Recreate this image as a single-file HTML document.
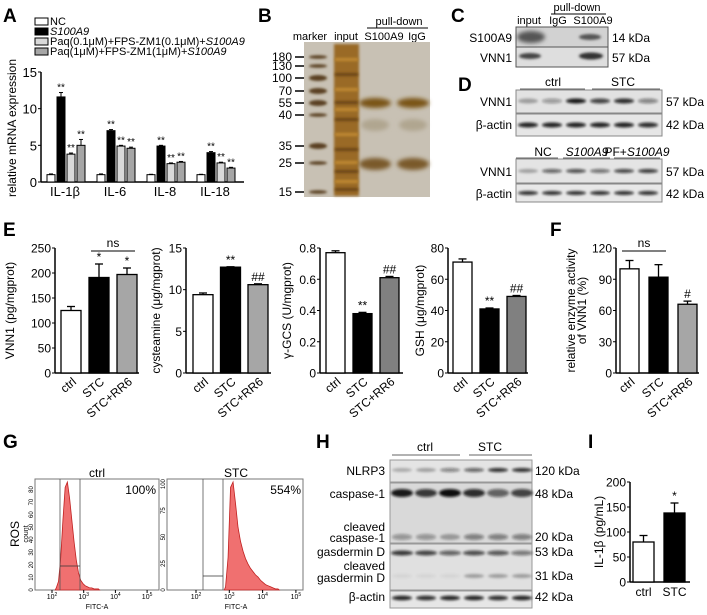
<!DOCTYPE html>
<html><head><meta charset="utf-8"><style>
body{margin:0;background:#fff}
svg{display:block;font-family:"Liberation Sans",Arial,sans-serif}
</style></head><body>
<svg id="fig" width="707" height="615" viewBox="0 0 707 615" xmlns="http://www.w3.org/2000/svg">
<defs>
<filter id="bl" x="-30%" y="-100%" width="160%" height="300%"><feGaussianBlur stdDeviation="1.3"/></filter>
<filter id="bl2" x="-30%" y="-100%" width="160%" height="300%"><feGaussianBlur stdDeviation="2"/></filter>
</defs>
<g font-weight="bold" font-size="19">
<text x="3" y="22">A</text>
<text x="258" y="22">B</text>
<text x="451" y="22">C</text>
<text x="458" y="91">D</text>
<text x="3" y="236">E</text>
<text x="550" y="236">F</text>
<text x="3" y="448">G</text>
<text x="316" y="448">H</text>
<text x="588" y="448">I</text>
</g>

<g font-size="11">
<rect x="35" y="18" width="13" height="7" fill="#fff" stroke="#000"/>
<text x="50" y="25">NC</text>
<rect x="35" y="28" width="13" height="7" fill="#000" stroke="#000"/>
<text x="50" y="35" font-style="italic">S100A9</text>
<rect x="35" y="38" width="13" height="7" fill="#d9d9d9" stroke="#000"/>
<text x="50" y="45">Paq(0.1μM)+FPS-ZM1(0.1μM)+<tspan font-style="italic">S100A9</tspan></text>
<rect x="35" y="48" width="13" height="7" fill="#a6a6a6" stroke="#000"/>
<text x="50" y="55">Paq(1μM)+FPS-ZM1(1μM)+<tspan font-style="italic">S100A9</tspan></text>
</g>
<g id="chartA"></g>

<g font-size="12">
<text x="310" y="40" text-anchor="middle" font-size="11">marker</text>
<text x="346" y="40" text-anchor="middle" font-size="11">input</text>
<text x="384" y="40" text-anchor="middle" font-size="11">S100A9</text>
<text x="417" y="40" text-anchor="middle" font-size="11">IgG</text>
<text x="399" y="25" text-anchor="middle" font-size="11">pull-down</text>
<line x1="367" y1="28" x2="428" y2="28" stroke="#000"/>
<rect x="304" y="42" width="126" height="155" fill="#c8c1b4"/>
<g id="gelB"></g>
</g>

<g font-size="12">
<text x="529" y="24" text-anchor="middle" font-size="11">input</text>
<text x="577" y="11" text-anchor="middle" font-size="11">pull-down</text>
<line x1="551" y1="14" x2="606" y2="14" stroke="#000"/>
<text x="558" y="24" text-anchor="middle" font-size="11">IgG</text>
<text x="593" y="24" text-anchor="middle" font-size="11">S100A9</text>
<rect x="516" y="27" width="92" height="20" fill="#d2d2d2" stroke="#555"/>
<rect x="516" y="47" width="92" height="20" fill="#dedede" stroke="#555"/>
<ellipse cx="531" cy="37" rx="14" ry="6" fill="#555" filter="url(#bl2)"/>
<ellipse cx="590" cy="37" rx="11" ry="3" fill="#555" filter="url(#bl)"/>
<ellipse cx="530" cy="56" rx="11" ry="3" fill="#444" filter="url(#bl)"/>
<ellipse cx="591" cy="56" rx="12" ry="3.5" fill="#333" filter="url(#bl)"/>
<text x="512" y="42" text-anchor="end">S100A9</text>
<text x="512" y="62" text-anchor="end">VNN1</text>
<text x="612" y="42">14 kDa</text>
<text x="612" y="62">57 kDa</text>
</g>

<g font-size="12">
<text x="553" y="86" text-anchor="middle">ctrl</text>
<text x="623" y="86" text-anchor="middle">STC</text>
<line x1="520" y1="89" x2="585" y2="89" stroke="#666"/>
<line x1="592" y1="89" x2="660" y2="89" stroke="#666"/>
<rect x="516" y="90" width="146" height="23" fill="#e2e2e2" stroke="#888"/>
<rect x="516" y="114" width="146" height="22" fill="#e6e6e6" stroke="#888"/>
<text x="512" y="106" text-anchor="end">VNN1</text>
<text x="512" y="129" text-anchor="end">β-actin</text>
<text x="666" y="106">57 kDa</text>
<text x="666" y="129">42 kDa</text>
<text x="543" y="156" text-anchor="middle">NC</text>
<text x="587" y="156" text-anchor="middle" font-style="italic">S100A9</text>
<text x="637" y="156" text-anchor="middle">PF+<tspan font-style="italic">S100A9</tspan></text>
<line x1="516" y1="158" x2="558" y2="158" stroke="#666"/>
<line x1="563" y1="158" x2="610" y2="158" stroke="#666"/>
<line x1="614" y1="158" x2="660" y2="158" stroke="#666"/>
<rect x="516" y="159" width="146" height="24" fill="#e4e4e4" stroke="#888"/>
<rect x="516" y="184" width="146" height="18" fill="#e8e8e8" stroke="#888"/>
<text x="512" y="176" text-anchor="end">VNN1</text>
<text x="512" y="198" text-anchor="end">β-actin</text>
<text x="666" y="176">57 kDa</text>
<text x="666" y="198">42 kDa</text>
<g id="bandsD"></g>
</g>

<g id="chartE"></g>
<g id="chartF"></g>

<g>
<text x="97" y="477" text-anchor="middle" font-size="12">ctrl</text>
<text x="236" y="477" text-anchor="middle" font-size="12">STC</text>
<text x="19" y="534" text-anchor="middle" font-size="12" transform="rotate(-90 19 534)">ROS</text>
<text x="28" y="534" text-anchor="middle" font-size="7" transform="rotate(-90 28 534)">count</text>
<rect x="35" y="479" width="124" height="111" fill="#fff" stroke="#777"/>
<rect x="167" y="479" width="136" height="111" fill="#fff" stroke="#777"/>
<g id="flowG"></g>
<text x="156" y="494" text-anchor="end" font-size="12">100%</text>
<text x="301" y="494" text-anchor="end" font-size="12">554%</text>
<text x="97" y="609" text-anchor="middle" font-size="7">FITC-A</text>
<text x="236" y="609" text-anchor="middle" font-size="7">FITC-A</text>
</g>

<g font-size="12">
<text x="425" y="451" text-anchor="middle">ctrl</text>
<text x="490" y="451" text-anchor="middle">STC</text>
<line x1="392" y1="455" x2="460" y2="455" stroke="#666"/>
<line x1="469" y1="455" x2="532" y2="455" stroke="#666"/>
<rect x="390" y="460" width="142" height="22" fill="#e4e4e4" stroke="#999"/>
<rect x="390" y="483" width="142" height="60" fill="#d9d9d9" stroke="#999"/>
<rect x="390" y="544" width="142" height="46" fill="#e0e0e0" stroke="#999"/>
<rect x="390" y="591" width="142" height="17" fill="#e6e6e6" stroke="#999"/>
<g id="bandsH"></g>
<text x="385" y="475" text-anchor="end">NLRP3</text>
<text x="385" y="498" text-anchor="end">caspase-1</text>
<text x="385" y="531" text-anchor="end">cleaved</text>
<text x="385" y="542" text-anchor="end">caspase-1</text>
<text x="385" y="556" text-anchor="end">gasdermin D</text>
<text x="385" y="570" text-anchor="end">cleaved</text>
<text x="385" y="582" text-anchor="end">gasdermin D</text>
<text x="385" y="601" text-anchor="end">β-actin</text>
<text x="535" y="475">120 kDa</text>
<text x="535" y="498">48 kDa</text>
<text x="535" y="541">20 kDa</text>
<text x="535" y="556">53 kDa</text>
<text x="535" y="580">31 kDa</text>
<text x="535" y="601">42 kDa</text>
</g>
<g id="chartI"></g>
</svg>
<script>
const aCats = ['IL-1β','IL-6','IL-8','IL-18'];
const aNC = [1,1,1,1];
const aS100A9 = [11.6,7.0,4.9,4.0];
const aLow = [3.8,4.9,2.5,2.6];
const aHigh = [5.0,4.6,2.7,1.9];
const aErrNC = [0.1,0.1,0.05,0.05];
const aErrS = [0.6,0.15,0.1,0.15];
const aErrLow = [0.15,0.1,0.1,0.1];
const aErrHigh = [0.8,0.15,0.1,0.1];
const aTicks = [0,5,10,15];

const eCats = ['ctrl','STC','STC+RR6'];
const vnn1Vals = [125,191,197];
const vnn1Err = [8,27,13];
const vnn1Ticks = [0,50,100,150,200,250];
const vnn1Marks = ['','*','*'];
const cystVals = [9.4,12.7,10.6];
const cystErr = [0.2,0.05,0.1];
const cystTicks = [0,5,10,15];
const cystMarks = ['','**','##'];
const gcsVals = [0.77,0.38,0.61];
const gcsErr = [0.012,0.008,0.008];
const gcsTicks = [0,0.2,0.4,0.6,0.8];
const gcsMarks = ['','**','##'];
const gshVals = [71,41,49];
const gshErr = [2,0.6,0.6];
const gshTicks = [0,20,40,60,80];
const gshMarks = ['','**','##'];
const fVals = [100,92,66];
const fErr = [8,12,3];
const fTicks = [0,30,60,90,120];
const fMarks = ['','','#'];
const iCats = ['ctrl','STC'];
const iVals = [80,138];
const iErr = [13,20];
const iTicks = [0,50,100,150,200];
const iMarks = ['','*'];

const ctrlHist = [2,8,30,65,95,100,85,65,45,28,16,9,6,4,3,2,2,1,1,1];
const stcHist = [3,30,95,100,80,58,45,36,29,24,20,17,14,12,9,7,5,4,3,2,1,1];

const dRow1 = [0.3,0.35,0.95,0.75,0.85,0.45];
const dRow2 = [0.3,0.6,0.7,0.55,0.75,0.8];
const hNlrp3 = [0.25,0.3,0.45,0.6,0.85,0.85];
const hCasp = [0.95,0.8,1.0,0.85,0.6,0.75];
const hCleavedCasp = [0.35,0.35,0.3,0.45,0.45,0.45];
const hGsdmd = [0.8,0.75,0.6,0.7,0.65,0.5];
const hCleavedG = [0.05,0.05,0.05,0.3,0.3,0.3];
const gelMarkers = [180,130,100,70,55,40,35,25,15];
const gelMarkerY = [57,66,78,91,103,115,146,163,192];

const NS='http://www.w3.org/2000/svg';
function el(parent, tag, attrs, name){
  const e=document.createElementNS(NS,tag);
  for(const k in attrs) e.setAttribute(k,attrs[k]);
  
  
  parent.appendChild(e);
  return e;
}
function txt(parent, x, y, s, size, anchor, name, extra){
  const t=el(parent,'text',Object.assign({x:x,y:y,'font-size':size,'text-anchor':anchor},extra||{}),name);
  t.textContent=s;
  return t;
}

function barChart(g, cfg){
  const yScale=v=>cfg.y0-(v-cfg.ticks[0])/(cfg.ticks[cfg.ticks.length-1]-cfg.ticks[0])*(cfg.y0-cfg.yTop);
  el(g,'line',{x1:cfg.ax,y1:cfg.yTop,x2:cfg.ax,y2:cfg.y0,stroke:'#000','stroke-width':1.5},'y-axis');
  el(g,'line',{x1:cfg.ax,y1:cfg.y0,x2:cfg.axEnd,y2:cfg.y0,stroke:'#000','stroke-width':1.5},'x-axis');
  cfg.ticks.forEach(t=>{
    const y=yScale(t);
    el(g,'line',{x1:cfg.ax-3,y1:y,x2:cfg.ax,y2:y,stroke:'#000'},'y-tick');
    txt(g,cfg.ax-4,y+4.5,String(t),12,'end','y-tick-label');
  });
  txt(g,cfg.ylx,(cfg.y0+cfg.yTop)/2,cfg.ylabel,12,'middle','y-axis-title',{transform:'rotate(-90 '+cfg.ylx+' '+((cfg.y0+cfg.yTop)/2)+')'});
  if(cfg.ylabel2){
    const x2=cfg.ylx+11;
    txt(g,x2,(cfg.y0+cfg.yTop)/2,cfg.ylabel2,12,'middle','y-axis-title-line2',{transform:'rotate(-90 '+x2+' '+((cfg.y0+cfg.yTop)/2)+')'});
  }
  cfg.vals.forEach((v,i)=>{
    const x=cfg.x0+i*cfg.step, cx=x+cfg.w/2, y=yScale(v), ye=yScale(v+cfg.err[i]);
    el(g,'line',{x1:cx,y1:y,x2:cx,y2:ye,stroke:'#000','stroke-width':1.3},'error-bar');
    el(g,'line',{x1:cx-4,y1:ye,x2:cx+4,y2:ye,stroke:'#000','stroke-width':1.3},'error-cap');
    el(g,'rect',{x:x,y:y,width:cfg.w,height:cfg.y0-y,fill:cfg.fills[i],stroke:'#000','stroke-width':1.3},'bar-'+cfg.cats[i].toLowerCase().replace(/\+/g,'-'));
    if(cfg.marks[i]) txt(g,cx,ye-3,cfg.marks[i],12,'middle','significance-mark');
    if(cfg.rot){
      txt(g,cx+6,cfg.y0+10,cfg.cats[i],12,'end','x-tick-label',{transform:'rotate(-40 '+(cx+6)+' '+(cfg.y0+10)+')'});
    } else {
      txt(g,cx,cfg.y0+14,cfg.cats[i],12,'middle','x-tick-label');
    }
  });
  if(cfg.ns){
    const a=cfg.x0+cfg.ns[0]*cfg.step+2, b=cfg.x0+cfg.ns[1]*cfg.step+cfg.w-2;
    el(g,'line',{x1:a,y1:cfg.nsY,x2:b,y2:cfg.nsY,stroke:'#000'},'ns-bracket');
    txt(g,(a+b)/2,cfg.nsY-4,'ns',12,'middle','ns-label');
  }
}

(function(){
  const g=document.getElementById('chartA');
  const y0=182,yTop=72,ax=41;
  const yS=v=>y0-v/15*(y0-yTop);
  el(g,'line',{x1:ax,y1:yTop,x2:ax,y2:y0,stroke:'#000','stroke-width':1.5},'y-axis');
  el(g,'line',{x1:ax,y1:y0,x2:244,y2:y0,stroke:'#000','stroke-width':1.5},'x-axis');
  aTicks.forEach(t=>{
    el(g,'line',{x1:ax-3,y1:yS(t),x2:ax,y2:yS(t),stroke:'#000'},'y-tick');
    txt(g,ax-4,yS(t)+5,String(t),13,'end','y-tick-label');
  });
  txt(g,16,128,'relative mRNA expression',12,'middle','y-axis-title',{transform:'rotate(-90 16 128)'});
  const series=[aNC,aS100A9,aLow,aHigh], errs=[aErrNC,aErrS,aErrLow,aErrHigh];
  const fills=['#fff','#000','#d9d9d9','#a6a6a6'];
  aCats.forEach((c,i)=>{
    const gx=47+50*i;
    series.forEach((s,j)=>{
      const x=gx+10*j, v=s[i], y=yS(v), ye=yS(v+errs[j][i]);
      el(g,'line',{x1:x+4,y1:y,x2:x+4,y2:ye,stroke:'#000'},'error-bar');
      el(g,'line',{x1:x+2,y1:ye,x2:x+6,y2:ye,stroke:'#000'},'error-cap');
      el(g,'rect',{x:x,y:y,width:8,height:y0-y,fill:fills[j],stroke:'#000'},'bar-'+c.toLowerCase()+'-s'+j);
      if(j>0) txt(g,x+4,ye-2,'**',10,'middle','significance-mark');
    });
    txt(g,gx+18,196,c,13,'middle','x-tick-label');
  });
})();

(function(){
  const g=document.getElementById('gelB');
  gelMarkers.forEach((m,i)=>{
    const y=gelMarkerY[i];
    txt(g,292,y+4,String(m),12,'end','marker-size-label');
    el(g,'line',{x1:295,y1:y,x2:304,y2:y,stroke:'#000','stroke-width':1.5},'marker-tick');
    el(g,'ellipse',{cx:318,cy:y,rx:9,ry:(m==55||m==70||m==100||m==35)?3:1.8,fill:'#5a4020',filter:'url(#bl)'},'marker-band');
  });
  el(g,'rect',{x:334,y:44,width:25,height:152,fill:'#9a6a28',filter:'url(#bl)'},'input-lane');
  [60,75,90,103,110,120,135,150,163,172,182,190].forEach((y,i)=>{
    el(g,'rect',{x:335,y:y-2,width:23,height:3,fill:i%2?'#6b4515':'#c08a30',filter:'url(#bl)'},'input-band');
  });
  [372,410].forEach(cx=>{
    el(g,'ellipse',{cx:cx+3,cy:103,rx:16,ry:5,fill:'#7a5418',filter:'url(#bl2)'},'pulldown-band-55');
    el(g,'ellipse',{cx:cx+3,cy:164,rx:16,ry:6,fill:'#7a5a2a',filter:'url(#bl2)'},'pulldown-band-25');
    el(g,'ellipse',{cx:cx+3,cy:125,rx:14,ry:6,fill:'#b0a690',filter:'url(#bl2)'},'pulldown-band-faint');
  });
})();

function bands(g, x0, step, y, vals, rx, ry, name){
  vals.forEach((v,i)=>{
    el(g,'ellipse',{cx:x0+i*step,cy:y,rx:rx,ry:ry,fill:'#111','fill-opacity':v,filter:'url(#bl)'},name);
  });
}
(function(){
  const g=document.getElementById('bandsD');
  bands(g,528,24,101,dRow1,10,2.5,'d1-vnn1-band');
  bands(g,528,24,125,[0.9,0.9,0.9,0.9,0.9,0.85],10,2.5,'d1-actin-band');
  bands(g,528,24,171,dRow2,10,2,'d2-vnn1-band');
  bands(g,528,24,193,[0.85,0.85,0.85,0.85,0.85,0.85],10,2,'d2-actin-band');
  const h=document.getElementById('bandsH');
  bands(h,402,24,470,hNlrp3,10,2,'h-nlrp3-band');
  bands(h,402,24,493,hCasp,11,4,'h-caspase1-band');
  bands(h,402,24,537,hCleavedCasp,10,3,'h-cleaved-caspase1-band');
  bands(h,402,24,553,hGsdmd,11,2.5,'h-gsdmd-band');
  bands(h,402,24,576,hCleavedG,10,2,'h-cleaved-gsdmd-band');
  bands(h,402,24,598,[0.9,0.85,0.9,0.9,0.85,0.9],10,2.3,'h-actin-band');
})();

(function(){
  const g=document.getElementById('chartE');
  const common={y0:373,yTop:248,cats:eCats,rot:true};
  barChart(el(g,'g',{},'e-vnn1-chart'),Object.assign({},common,{ax:55,axEnd:139,x0:61,step:28,w:20,vals:vnn1Vals,err:vnn1Err,ticks:vnn1Ticks,marks:vnn1Marks,fills:['#fff','#000','#a6a6a6'],ylabel:'VNN1 (pg/mgprot)',ylx:14,ns:[1,2],nsY:251}));
  barChart(el(g,'g',{},'e-cysteamine-chart'),Object.assign({},common,{ax:186,axEnd:271,x0:193,step:27.5,w:20,vals:cystVals,err:cystErr,ticks:cystTicks,marks:cystMarks,fills:['#fff','#000','#a6a6a6'],ylabel:'cysteamine (μg/mgprot)',ylx:160}));
  barChart(el(g,'g',{},'e-gcs-chart'),Object.assign({},common,{ax:320,axEnd:403,x0:326,step:27,w:19,vals:gcsVals,err:gcsErr,ticks:gcsTicks,marks:gcsMarks,fills:['#fff','#000','#808080'],ylabel:'γ-GCS (U/mgprot)',ylx:291}));
  barChart(el(g,'g',{},'e-gsh-chart'),Object.assign({},common,{ax:448,axEnd:528,x0:453,step:27,w:19,vals:gshVals,err:gshErr,ticks:gshTicks,marks:gshMarks,fills:['#fff','#000','#808080'],ylabel:'GSH (μg/mgprot)',ylx:424}));
  const f=document.getElementById('chartF');
  barChart(f,Object.assign({},common,{ax:616,axEnd:699,x0:620,step:29,w:19,vals:fVals,err:fErr,ticks:fTicks,marks:fMarks,fills:['#fff','#000','#a6a6a6'],ylabel:'relative enzyme activity',ylabel2:'of VNN1 (%)',ylx:575,ns:[0,1],nsY:251}));
  const ii=document.getElementById('chartI');
  barChart(ii,{y0:582,yTop:482,cats:iCats,rot:false,ax:630,axEnd:690,x0:633,step:31,w:21,vals:iVals,err:iErr,ticks:iTicks,marks:iMarks,fills:['#fff','#000'],ylabel:'IL-1β (pg/mL)',ylx:603});
})();

(function(){
  const g=document.getElementById('flowG');
  function hist(box, hv, logStart, binW, xAt, ticks, tickMax, gate, gateY){
    const top=box.y+3, bot=box.y+box.h;
    const pts=[[xAt(logStart),bot]];
    hv.forEach((v,i)=>{pts.push([xAt(logStart+i*binW+binW/2), bot-v/100*(bot-top)]);});
    pts.push([xAt(logStart+hv.length*binW),bot]);
    el(g,'polygon',{points:pts.map(p=>p.join(',')).join(' '),fill:'#f07070',stroke:'#c02020','stroke-width':0.8},'histogram');
    el(g,'line',{x1:gate[0],y1:box.y,x2:gate[0],y2:bot,stroke:'#555','stroke-width':0.8},'gate-line');
    el(g,'line',{x1:gate[1],y1:box.y,x2:gate[1],y2:bot,stroke:'#555','stroke-width':0.8},'gate-line');
    el(g,'line',{x1:gate[0],y1:gateY,x2:gate[1],y2:gateY,stroke:'#333','stroke-width':0.8},'gate-bar');
    [2,3,4,5].forEach(d=>{
      const x=xAt(d);
      el(g,'line',{x1:x,y1:bot,x2:x,y2:bot+3,stroke:'#000'},'x-tick');
      const t=txt(g,x,bot+9,'10',7,'middle','x-tick-label');
      const s=document.createElementNS(NS,'tspan'); s.setAttribute('font-size','5'); s.setAttribute('dy','-3'); s.textContent=String(d); t.appendChild(s);
    });
    ticks.forEach(t=>{
      const y=bot-t/tickMax*(bot-top);
      txt(g,box.x-2,y,String(t),6,'middle','y-tick-label',{transform:'rotate(-90 '+(box.x-2)+' '+y+')'});
    });
  }
  hist({x:35,y:479,h:111},ctrlHist,2.1,0.07,l=>52+(l-2)*31.7,[0,10,20,30,40,50,60,70,80],86,[60,80],566);
  hist({x:167,y:479,h:111},stcHist,2.85,0.075,l=>196+(l-2)*33.3,[0,25,50,75,100],102,[203,223],576);
})();
</script>
</body></html>
